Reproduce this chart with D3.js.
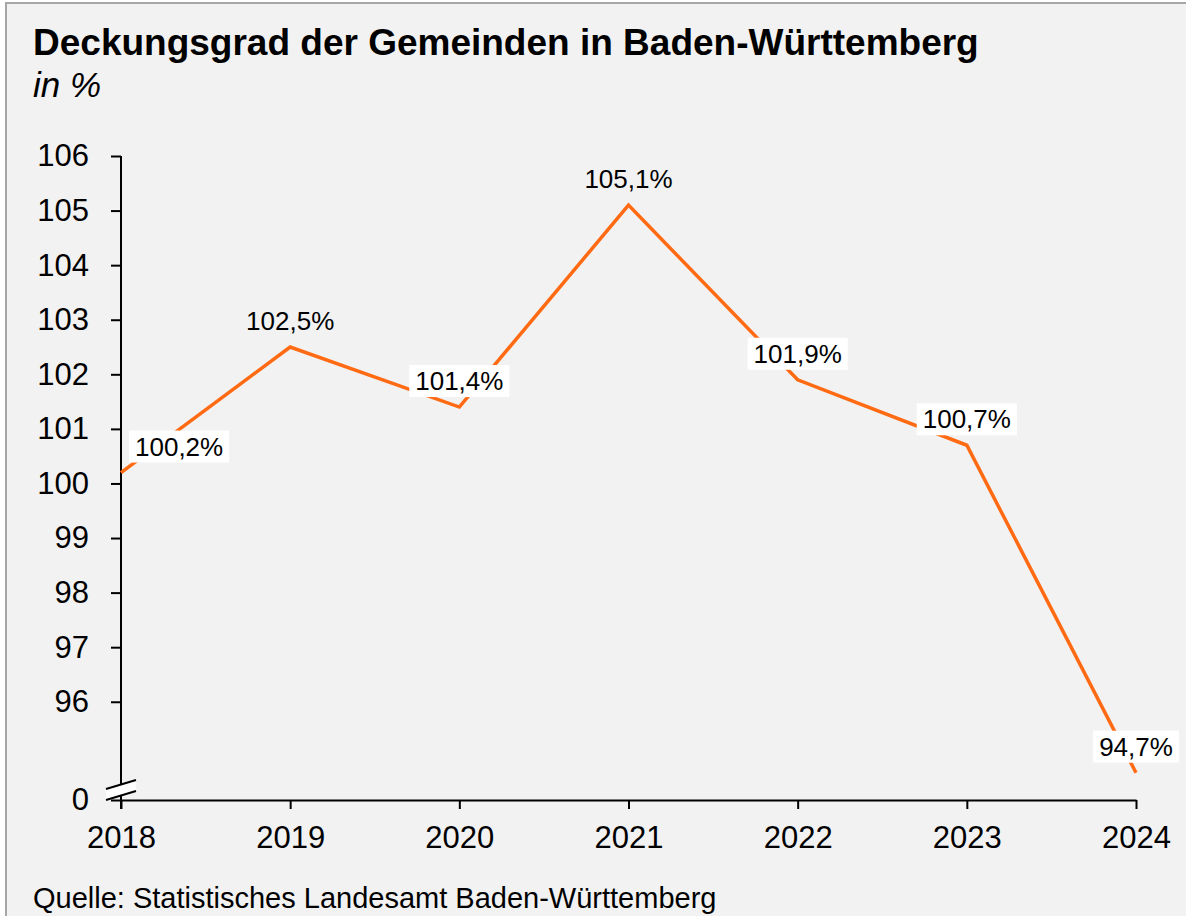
<!DOCTYPE html>
<html>
<head>
<meta charset="utf-8">
<script src="https://cdn.jsdelivr.net/npm/d3@7"></script>
<style>
  body { margin: 0; background: #fff; }
  svg { display: block; font-family: "Liberation Sans", Arial, sans-serif; }
</style>
</head>
<body>
<svg id="chart"></svg>
<script>
const width = 1186;
const height = 916;

// data
const years = ["2018", "2019", "2020", "2021", "2022", "2023", "2024"];
const values = [100.2, 102.5, 101.4, 105.1, 101.9, 100.7, 94.7];
const yTicks = [96, 97, 98, 99, 100, 101, 102, 103, 104, 105, 106];
const yBreakLabel = "0";

const margin = {top: 156, right: 50, bottom: 116, left: 121};
const yMin = 94.2;

const svg = d3.select("#chart")
    .attr("width", width)
    .attr("height", height);

// frame
svg.append("rect")
    .attr("x", 6).attr("y", 3)
    .attr("width", width + 10).attr("height", height + 10)
    .attr("fill", "#f2f2f2")
    .attr("stroke", "#a6a6a6")
    .attr("stroke-width", 2);

svg.append("text")
    .attr("x", 33).attr("y", 55)
    .attr("font-size", 37).attr("font-weight", "bold")
    .text("Deckungsgrad der Gemeinden in Baden-Württemberg");

svg.append("text")
    .attr("x", 33).attr("y", 97)
    .attr("font-size", 35).attr("font-style", "italic")
    .text("in %");

svg.append("text")
    .attr("x", 33).attr("y", 908)
    .attr("font-size", 29)
    .text("Quelle: Statistisches Landesamt Baden-Württemberg");

const x = d3.scalePoint()
    .domain(years)
    .range([margin.left, width - margin.right]);

const y = d3.scaleLinear()
    .domain([yMin, 106])
    .range([height - margin.bottom, margin.top]);

const x0 = margin.left;
const y0 = height - margin.bottom;

// axes
const yAxis = svg.append("g")
    .attr("transform", `translate(${x0},0)`)
    .call(d3.axisLeft(y)
        .tickValues([yMin].concat(yTicks))
        .tickFormat(d => d === yMin ? yBreakLabel : d)
        .tickSize(10)
        .tickSizeOuter(0)
        .tickPadding(22));

const xAxis = svg.append("g")
    .attr("transform", `translate(0,${y0})`)
    .call(d3.axisBottom(x)
        .tickSize(9)
        .tickSizeOuter(0)
        .tickPadding(17));

[yAxis, xAxis].forEach(ax => {
    ax.select(".domain").attr("stroke", "#000").attr("stroke-width", 2);
    ax.selectAll(".tick line").attr("stroke", "#000").attr("stroke-width", 2);
    ax.selectAll(".tick text")
        .attr("font-size", 31)
        .attr("fill", "#000")
        .attr("font-family", "Liberation Sans, Arial, sans-serif");
});
// make the y axis reach the x axis tick
yAxis.select(".domain").attr("d", `M0,${margin.top}V${y0 + 9}`);

// axis break marker
const brk = svg.append("g").attr("transform", `translate(${x0},${y0 - 18})`);
brk.append("path")
    .attr("d", "M-15,7 L15,-2 L15,9 L-15,18 Z")
    .attr("fill", "#fff");
brk.append("path")
    .attr("d", "M-15,7 L15,-2 M-15,18 L15,9")
    .attr("stroke", "#000")
    .attr("stroke-width", 2);

// line
const line = d3.line()
    .x((d, i) => x(years[i]))
    .y(d => y(d));

svg.append("path")
    .datum(values)
    .attr("d", line)
    .attr("fill", "none")
    .attr("stroke", "#ff6a13")
    .attr("stroke-width", 3.5)
    .attr("stroke-linejoin", "miter");

// labels
const fmt = v => v.toFixed(1).replace(".", ",") + "%";
values.forEach((v, i) => {
    const px = x(years[i]);
    const py = y(v);
    const peak = i > 0 && i < values.length - 1 && values[i - 1] < v && values[i + 1] < v;
    const g = svg.append("g");
    const t = g.append("text")
        .attr("font-size", 26)
        .attr("text-anchor", "middle")
        .attr("x", px)
        .attr("y", py - 17)
        .text(fmt(v));
    const bb = t.node().getBBox();
    let shift = 0;
    if (bb.x - 6 < x0 + 8) shift = (x0 + 8) - (bb.x - 6);
    t.attr("x", px + shift);
    if (!peak) {
        g.insert("rect", "text")
            .attr("x", bb.x - 6 + shift)
            .attr("y", py - 42)
            .attr("width", bb.width + 12)
            .attr("height", 32)
            .attr("fill", "#fff");
    }
});
</script>
</body>
</html>
